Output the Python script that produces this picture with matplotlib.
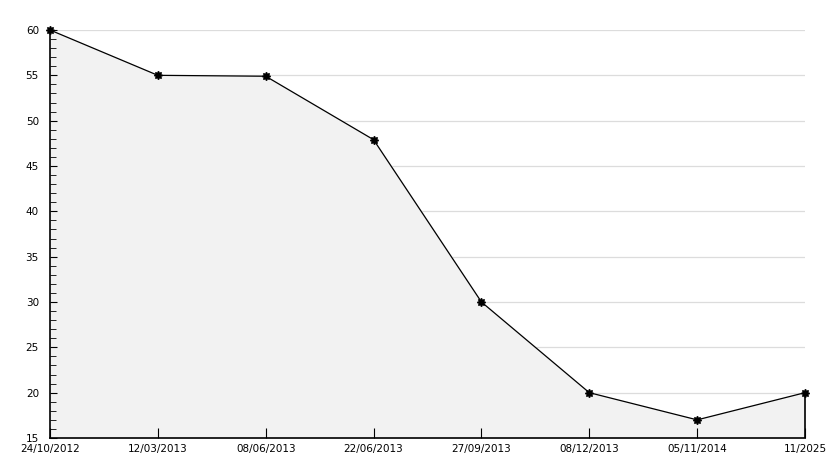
import numpy as np
import matplotlib.pyplot as plt
from matplotlib.ticker import MultipleLocator

dates = ['24/10/2012', '12/03/2013', '08/06/2013', '22/06/2013',
         '27/09/2013', '08/12/2013', '05/11/2014', '11/2025']
values = [60, 55, 54.9, 47.9, 30, 20, 17, 20]

W, H = 834, 468
fig = plt.figure(figsize=(W / 100, H / 100), dpi=100)
ax = fig.add_axes([50 / W, 30 / H, 755 / W, 408 / H])

x = np.arange(len(dates))
ax.fill_between(x, values, 15, color='#f2f2f2', zorder=1)
ax.plot(x, values, color='black', lw=0.9, marker=(8, 1, 0), ms=6, zorder=4, clip_on=False)
ax.vlines(x[-1], 15, values[-1], color='black', lw=1.2, zorder=3, clip_on=False)

ax.set_xlim(x[0], x[-1])
ax.set_ylim(15, 60)
ax.yaxis.set_major_locator(MultipleLocator(5))
ax.yaxis.set_minor_locator(MultipleLocator(1))
ax.set_xticks(x)
ax.set_xticklabels(dates)

# horizontal grid at each labelled value
for v in range(20, 61, 5):
    ax.axhline(v, color='#dcdcdc', lw=0.9, zorder=0.5)

for s in ['top', 'right']:
    ax.spines[s].set_visible(False)
for s in ['left', 'bottom']:
    ax.spines[s].set_linewidth(1.2)

ax.tick_params(axis='y', which='major', direction='in', length=5, pad=8, labelsize=7.5)
ax.tick_params(axis='y', which='minor', direction='in', length=4)
ax.tick_params(axis='x', direction='in', length=7, pad=4, labelsize=7.5)

fig.savefig('out.png', dpi=100)
